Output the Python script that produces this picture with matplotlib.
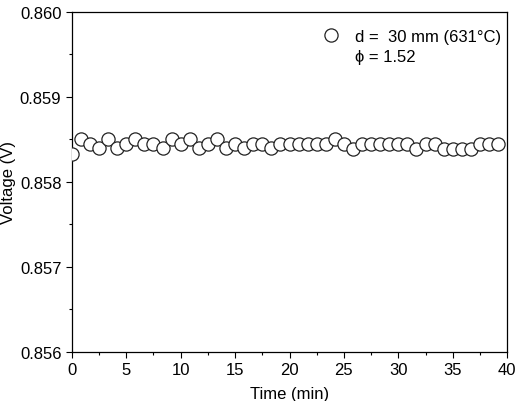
import numpy as np
import matplotlib.pyplot as plt
from matplotlib.ticker import MultipleLocator

plt.rcParams['font.family'] = ['Liberation Sans', 'DejaVu Sans']

# time step of 50 s -> 5/6 min, 48 readings
time_min = np.arange(48) * 5.0 / 6.0
voltage = [
    0.85833, 0.85850, 0.85845, 0.85840, 0.85850, 0.85840, 0.85845, 0.85850,
    0.85845, 0.85845, 0.85840, 0.85850, 0.85845, 0.85850, 0.85840, 0.85845,
    0.85851, 0.85840, 0.85845, 0.85840, 0.85845, 0.85845, 0.85840, 0.85845,
    0.85845, 0.85845, 0.85845, 0.85845, 0.85845, 0.85851, 0.85845, 0.85839,
    0.85845, 0.85845, 0.85845, 0.85845, 0.85845, 0.85845, 0.85839, 0.85845,
    0.85845, 0.85839, 0.85839, 0.85839, 0.85839, 0.85845, 0.85845, 0.85845,
]
series_label = 'd =  30 mm (631\u00b0C)'
phi_label = '\u03d5 = 1.52'

fig = plt.figure(figsize=(5.17, 4.02), dpi=100)
ax = fig.add_axes([0.139, 0.122, 0.842, 0.846])

ax.plot(time_min, voltage, 'o', mfc='white', mec='#222222', ms=9.5, mew=0.9,
        linestyle='none', label=series_label, zorder=3)

ax.set_xlim(0, 40)
ax.set_ylim(0.856, 0.860)
ax.xaxis.set_major_locator(MultipleLocator(5))
ax.xaxis.set_minor_locator(MultipleLocator(2.5))
ax.yaxis.set_major_locator(MultipleLocator(0.001))
ax.yaxis.set_minor_locator(MultipleLocator(0.0005))
ax.yaxis.set_major_formatter(plt.FormatStrFormatter('%.3f'))

ax.tick_params(which='both', direction='out', labelsize=12, width=0.8,
               top=False, right=False)
ax.tick_params(which='major', length=4)
ax.tick_params(which='minor', length=2.5)
for s in ax.spines.values():
    s.set_linewidth(0.9)

ax.set_xlabel('Time (min)', fontsize=12, labelpad=6)
ax.set_ylabel('Voltage (V)', fontsize=12, labelpad=3)

ax.legend(loc='upper right', bbox_to_anchor=(1.016, 0.99), frameon=False,
          fontsize=12, handletextpad=0.8, borderaxespad=0.6, handlelength=1.2,
          borderpad=0.2)
ax.text(0.651, 0.87, phi_label, transform=ax.transAxes, fontsize=12,
        ha='left', va='center')

fig.savefig('out.png', dpi=100)
